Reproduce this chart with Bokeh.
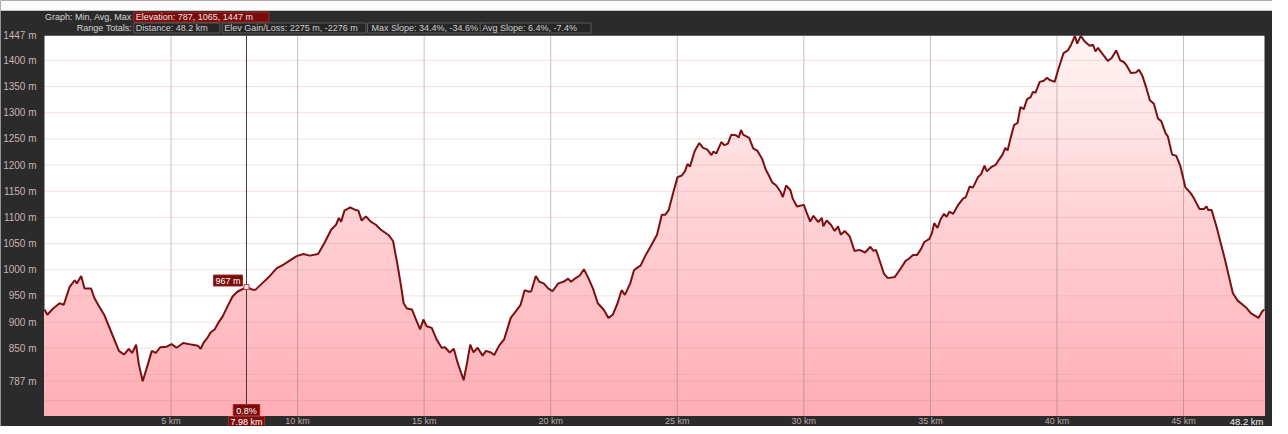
import numpy as np
from bokeh.plotting import figure
from bokeh.models import (Range1d, FixedTicker, PrintfTickFormatter, Label, LinearAxis,
                          BoxAnnotation)
from bokeh.embed import file_html
from bokeh.resources import INLINE

# ---------------- data ----------------
dist_km = [0.00, 0.11, 0.34, 0.60, 0.76, 0.99, 1.19, 1.28, 1.45, 1.58, 1.84, 1.97, 2.16, 2.36, 2.62,
           2.94, 3.14, 3.33, 3.46, 3.62, 3.72, 3.88, 4.05, 4.24, 4.40, 4.57, 4.83, 5.02, 5.22, 5.48,
           5.80, 6.06, 6.17, 6.29, 6.45, 6.56, 6.72, 6.91, 7.04, 7.23, 7.43, 7.62, 7.98, 8.21, 8.34,
           8.60, 8.86, 9.18, 9.45, 9.64, 9.96, 10.23, 10.48, 10.81, 11.07, 11.33, 11.52, 11.63, 11.72,
           11.85, 12.08, 12.30, 12.40, 12.53, 12.70, 12.89, 13.09, 13.28, 13.60, 13.77, 13.93, 14.06,
           14.19, 14.32, 14.52, 14.65, 14.84, 14.97, 15.10, 15.30, 15.49, 15.69, 15.82, 16.01, 16.17,
           16.33, 16.56, 16.69, 16.82, 16.95, 17.11, 17.31, 17.44, 17.64, 17.77, 17.96, 18.16, 18.42,
           18.61, 18.81, 18.97, 19.13, 19.23, 19.41, 19.55, 19.72, 19.91, 20.07, 20.30, 20.50, 20.69,
           20.80, 20.95, 21.15, 21.31, 21.47, 21.67, 21.86, 22.09, 22.28, 22.45, 22.64, 22.80, 22.93,
           23.14, 23.29, 23.45, 23.55, 23.74, 23.95, 24.20, 24.39, 24.52, 24.66, 24.85, 25.01, 25.18,
           25.31, 25.40, 25.50, 25.69, 25.87, 26.02, 26.18, 26.35, 26.43, 26.54, 26.74, 26.86, 27.00,
           27.13, 27.32, 27.43, 27.52, 27.60, 27.84, 28.00, 28.17, 28.36, 28.49, 28.62, 28.75, 28.91,
           29.08, 29.17, 29.30, 29.47, 29.56, 29.73, 30.00, 30.12, 30.25, 30.38, 30.57, 30.71, 30.77,
           30.90, 31.07, 31.22, 31.35, 31.46, 31.61, 31.81, 32.00, 32.20, 32.42, 32.63, 32.75, 32.85,
           32.97, 33.17, 33.32, 33.59, 33.82, 34.02, 34.15, 34.31, 34.47, 34.62, 34.76, 34.96, 35.06,
           35.15, 35.28, 35.41, 35.54, 35.64, 35.75, 35.90, 36.10, 36.29, 36.40, 36.55, 36.68, 36.88,
           37.01, 37.14, 37.23, 37.40, 37.59, 37.72, 37.85, 37.96, 38.05, 38.17, 38.31, 38.44, 38.56,
           38.69, 38.82, 38.96, 39.05, 39.15, 39.32, 39.48, 39.61, 39.70, 39.91, 40.06, 40.26, 40.43,
           40.56, 40.71, 40.80, 40.94, 41.10, 41.29, 41.43, 41.52, 41.62, 41.82, 42.01, 42.17, 42.34,
           42.50, 42.64, 42.73, 42.92, 43.12, 43.24, 43.38, 43.54, 43.67, 43.83, 43.99, 44.12, 44.29,
           44.38, 44.55, 44.71, 44.87, 45.07, 45.29, 45.42, 45.63, 45.81, 45.91, 45.98, 46.11, 46.30,
           46.63, 46.95, 47.14, 47.47, 47.66, 47.96, 48.12, 48.20]
elev_m = [924, 914, 926, 936, 933, 967, 980, 974, 988, 964, 964, 946, 930, 914, 883,
          845, 838, 849, 841, 857, 821, 787, 814, 845, 841, 852, 853, 858, 851, 860,
          857, 855, 849, 861, 871, 880, 886, 902, 911, 930, 949, 958, 967, 962, 962,
          974, 986, 1003, 1010, 1016, 1026, 1030, 1027, 1030, 1052, 1077, 1086, 1099, 1092,
          1113, 1119, 1114, 1113, 1094, 1102, 1092, 1086, 1077, 1066, 1055, 1014, 977,
          936, 926, 924, 908, 886, 905, 892, 889, 867, 851, 852, 842, 849,
          821, 789, 821, 857, 842, 851, 836, 845, 842, 837, 855, 867, 908,
          920, 933, 961, 958, 959, 988, 977, 974, 964, 959, 974, 977, 983,
          977, 983, 989, 1001, 986, 964, 936, 924, 908, 914, 936, 961, 952,
          974, 999, 1005, 1008, 1027, 1045, 1067, 1105, 1105, 1114, 1149, 1177, 1180,
          1189, 1202, 1197, 1227, 1242, 1233, 1230, 1219, 1226, 1222, 1244, 1238, 1241,
          1258, 1257, 1253, 1267, 1258, 1252, 1232, 1227, 1211, 1192, 1180, 1167, 1161,
          1149, 1139, 1161, 1152, 1136, 1121, 1124, 1108, 1092, 1103, 1091, 1099, 1083,
          1094, 1086, 1074, 1083, 1067, 1074, 1064, 1036, 1038, 1033, 1044, 1036, 1038,
          1021, 992, 984, 986, 1002, 1017, 1021, 1028, 1028, 1039, 1053, 1059, 1070,
          1089, 1080, 1097, 1107, 1101, 1111, 1107, 1124, 1136, 1139, 1159, 1157, 1177,
          1183, 1199, 1188, 1196, 1201, 1211, 1220, 1233, 1228, 1252, 1277, 1280, 1311,
          1307, 1326, 1330, 1340, 1338, 1359, 1361, 1367, 1363, 1359, 1384, 1414, 1419,
          1430, 1447, 1432, 1447, 1436, 1428, 1430, 1417, 1424, 1411, 1399, 1405, 1419,
          1400, 1397, 1392, 1376, 1377, 1382, 1370, 1346, 1324, 1317, 1289, 1284, 1261,
          1255, 1220, 1218, 1199, 1158, 1146, 1136, 1116, 1116, 1121, 1114, 1114, 1083,
          1021, 955, 941, 928, 917, 908, 921, 924]

y_ticks = [787, 850, 900, 950, 1000, 1050, 1100, 1150, 1200, 1250, 1300, 1350, 1400, 1447]
y_grid = [750, 787, 800, 850, 900, 950, 1000, 1050, 1100, 1150, 1200, 1250, 1300, 1350, 1400]
x_ticks = [5, 10, 15, 20, 25, 30, 35, 40, 45]
total_km = 48.2
end_label = "48.2 km"

cursor_km = 7.98
cursor_elev = 967
cursor_elev_label = "967 m"
cursor_slope_label = "0.8%"
cursor_km_label = "7.98 km"

row1_title = "Graph: Min, Avg, Max"
row1_boxes = ["Elevation: 787, 1065, 1447 m"]
row2_title = "Range Totals:"
row2_boxes = ["Distance: 48.2 km", "Elev Gain/Loss: 2275 m, -2276 m",
              "Max Slope: 34.4%, -34.6%", "Avg Slope: 6.4%, -7.4%"]

# ---------------- layout (canvas pixels) ----------------
W, H = 1272, 426
PL, PR, PT, PB = 44.0, 1264.0, 35.3, 415.5      # plot area inside the canvas
STRIP = 10.2                                     # light strip above the dark header
x0, x1 = 0.0, total_km
y_lo, y_hi = 720.6, 1447.0
kx = (x1 - x0) / (PR - PL)
ky = (y_hi - y_lo) / (PB - PT)
FONT = "Liberation Sans"
BG = "#2b2b2b"

p = figure(width=W, height=H,
           x_range=Range1d(x0 - PL * kx, x1 + (W - PR) * kx),
           y_range=Range1d(y_lo - (H - PB) * ky, y_hi + PT * ky),
           x_axis_type=None, y_axis_type=None,
           output_backend="svg", toolbar_location=None, min_border=0,
           background_fill_color=BG, border_fill_color=BG, outline_line_color=None)

# light strip at the very top and white plot area
p.add_layout(BoxAnnotation(bottom=y_hi + (PT - STRIP) * ky, fill_color="#fbfbfb",
                           fill_alpha=1.0, line_color=None, level="underlay"))
p.add_layout(BoxAnnotation(left=x0, right=x1, bottom=y_lo, top=y_hi, fill_color="white",
                           fill_alpha=1.0, line_color=None, level="underlay"))

x = np.array(dist_km, dtype=float)
e = np.array(elev_m, dtype=float)

# gradient-like fill: stacked bands, drawn from the top band downward
n = 48
edges = np.linspace(y_lo, y_hi, n + 1)
top_rgb = np.array([255, 244, 244])
bot_rgb = np.array([255, 173, 180])
for i in range(n, 0, -1):
    mid = 0.5 * (edges[i] + edges[i - 1])
    f = (mid - y_lo) / (y_hi - y_lo)
    c = (bot_rgb + (top_rgb - bot_rgb) * f).round().astype(int)
    col = "#%02x%02x%02x" % tuple(c)
    p.varea(x=x, y1=np.full_like(e, y_lo), y2=np.minimum(e, edges[i]), fill_color=col)

# grid lines (above the fill, below the profile line)
vg = p.segment(x0=x_ticks, y0=[y_lo] * len(x_ticks), x1=x_ticks, y1=[y_hi] * len(x_ticks),
               line_color="#707070", line_alpha=0.42, line_width=1)
vg.level = "guide"
hg = p.segment(x0=[x0] * len(y_grid), y0=y_grid, x1=[x1] * len(y_grid), y1=y_grid,
               line_color="#c89090", line_alpha=0.28, line_width=1)
hg.level = "guide"

line = p.line(x, e, line_color="#7a1012", line_width=2)
line.level = "annotation"

# axes, fixed on the plot-area edges
yaxis = LinearAxis(fixed_location=x0, ticker=FixedTicker(ticks=y_ticks),
                   formatter=PrintfTickFormatter(format="%d m"))
xaxis = LinearAxis(fixed_location=y_lo, ticker=FixedTicker(ticks=x_ticks),
                   formatter=PrintfTickFormatter(format="%d km"))
for ax in (yaxis, xaxis):
    ax.axis_line_color = None
    ax.major_tick_line_color = None
    ax.minor_tick_line_color = None
    ax.major_tick_out = 0
    ax.major_tick_in = 0
    ax.major_label_text_font = FONT
yaxis.major_label_text_font_size = "10px"
yaxis.major_label_text_color = "#c8b4b4"
yaxis.major_label_standoff = 8
xaxis.major_label_text_font_size = "9px"
xaxis.major_label_text_color = "#bca8a8"
xaxis.major_label_standoff = 0
p.add_layout(yaxis, "left")
p.add_layout(xaxis, "below")

# cursor (drawn before the labels so that the boxes sit on top of it)
cl = p.segment(x0=[cursor_km], y0=[y_lo], x1=[cursor_km], y1=[y_hi],
               line_color="#3a3a3a", line_width=1)
cl.level = "annotation"
mk = p.scatter([cursor_km], [cursor_elev], marker="square", size=5,
               fill_color="#ffe8e8", line_color="#c03a3a", line_width=1)
mk.level = "annotation"

RED = "#7a0c0c"
RED_EDGE = "#a02a2a"


def sy(cy):
    return H - cy


p.add_layout(Label(x=cursor_km, y=cursor_elev, text=cursor_elev_label, text_align="right",
                   text_baseline="bottom", x_offset=-4, y_offset=1, text_font=FONT,
                   text_font_size="9px", text_color="white", background_fill_color=RED,
                   border_line_color=RED_EDGE, padding=dict(left=2, right=2, top=1, bottom=0)))
p.add_layout(Label(x=cursor_km, y=sy(415), y_units="screen", text=cursor_slope_label,
                   text_align="center", text_baseline="bottom", text_font=FONT,
                   text_font_size="9px", text_color="white", background_fill_color=RED,
                   border_line_color=RED_EDGE, padding=dict(left=3, right=3, top=1, bottom=0)))
p.add_layout(Label(x=cursor_km, y=sy(416), y_units="screen", text=cursor_km_label,
                   text_align="center", text_baseline="top", text_font=FONT,
                   text_font_size="9px", text_color="white", background_fill_color=RED,
                   border_line_color=RED_EDGE, padding=dict(left=2, right=2, top=0, bottom=0)))
p.add_layout(Label(x=PR - 1, y=sy(415.5), x_units="screen", y_units="screen", text=end_label,
                   text_align="right", text_baseline="top", text_font=FONT,
                   text_font_size="9.5px", text_color="#f2f2f2"))

# header
ROW1, ROW2 = 16.7, 27.5
p.add_layout(Label(x=131.3, y=sy(ROW1), x_units="screen", y_units="screen", text=row1_title,
                   text_align="right", text_baseline="middle", text_font=FONT,
                   text_font_size="9px", text_color="#d4d4d4"))
p.add_layout(Label(x=131.3, y=sy(ROW2), x_units="screen", y_units="screen", text=row2_title,
                   text_align="right", text_baseline="middle", text_font=FONT,
                   text_font_size="9px", text_color="#d4d4d4"))

row1_x = [133.3]
row1_pad = [(2, 16)]
for t, cx, (pl, pr) in zip(row1_boxes, row1_x, row1_pad):
    p.add_layout(Label(x=cx, y=sy(ROW1), x_units="screen", y_units="screen", text=t,
                       text_align="left", text_baseline="middle", text_font=FONT,
                       text_font_size="9px", text_color="#f0e0e0", background_fill_color=RED,
                       border_line_color=RED_EDGE,
                       padding=dict(left=pl, right=pr, top=0, bottom=0)))

row2_x = [133.3, 221.8, 367.0, 479.7]
row2_pad = [(2, 12), (2, 8), (4, 3), (2, 14)]
for t, cx, (pl, pr) in zip(row2_boxes, row2_x, row2_pad):
    p.add_layout(Label(x=cx, y=sy(ROW2), x_units="screen", y_units="screen", text=t,
                       text_align="left", text_baseline="middle", text_font=FONT,
                       text_font_size="9px", text_color="#cfcfcf", background_fill_color="#262626",
                       border_line_color="#5a5a5a",
                       padding=dict(left=pl, right=pr, top=0, bottom=0)))

open("out.html", "w").write(file_html(p, INLINE))
